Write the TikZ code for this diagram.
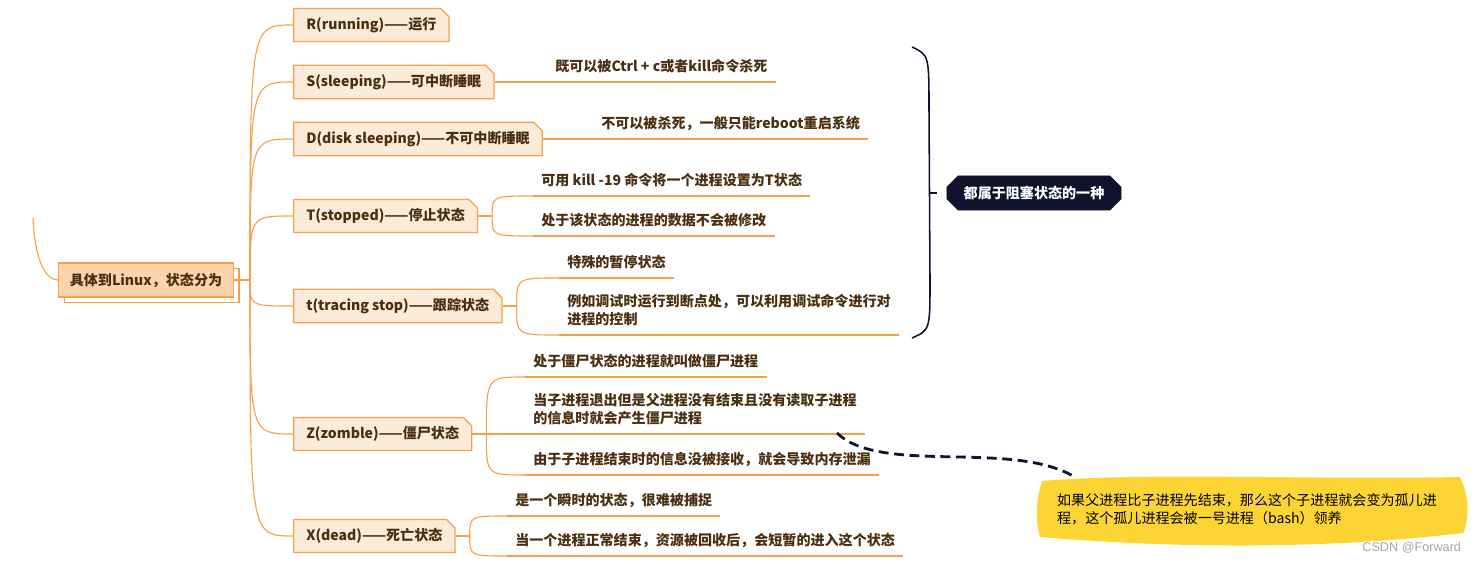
\documentclass[tikz,border=0pt]{standalone}
\usepackage{fontspec}
\setmainfont{Noto Sans CJK SC}
\newfontfamily\markfont{Liberation Sans}
\usetikzlibrary{positioning,shapes.misc,shadows}
\definecolor{branch}{HTML}{F6A04D}
\definecolor{boxfill}{HTML}{FDEBDA}
\definecolor{rootfill}{HTML}{FBD3AC}
\definecolor{ink}{HTML}{4A2E10}
\definecolor{navy}{HTML}{12112E}
\definecolor{note}{HTML}{FCD535}
\tikzset{
  state/.style={chamfered rectangle, chamfered rectangle corners=north east,
    chamfered rectangle xsep=3pt, chamfered rectangle ysep=3pt,
    draw=branch, fill=boxfill, line width=0.9pt, minimum height=0.82cm,
    inner xsep=6pt, font=\fontsize{10}{13}\selectfont\bfseries, text=ink, anchor=west},
  leaf/.style={anchor=south west, inner xsep=0.2cm, inner ysep=6pt, text=ink,
    align=left, font=\fontsize{10}{13}\selectfont\bfseries},
  block/.style={chamfered rectangle, chamfered rectangle xsep=4pt, chamfered rectangle ysep=4pt,
    fill=navy, draw=navy, text=white, minimum height=0.85cm, inner xsep=8pt,
    font=\fontsize{10}{13}\selectfont\bfseries},
  twig/.style={branch, line width=0.8pt},
}
\begin{document}
\begin{tikzpicture}[x=0.025cm, y=-0.025cm]
    \useasboundingbox (0,0) rectangle (1477,564);
    % Root
    \node[draw=branch, fill=rootfill, line width=0.9pt, minimum height=0.85cm, inner xsep=8pt,
      font=\fontsize{10}{13}\selectfont\bfseries, text=ink,
      general shadow={fill=white, draw=branch, line width=0.9pt, shadow xshift=4pt, shadow yshift=-4pt}]
      (root) at (146,280) {具体到Linux，状态分为};
    \coordinate (up) at (33,218);
    \coordinate (hub) at (250,280);
    \draw[twig] (up) .. controls (35,262) and (46,280) .. (root.west);
    \draw[twig] (root.east) -- (hub);
    % States
    \foreach \n/\y/\lbl in {R/25/R(running)——运行, S/82/S(sleeping)——可中断睡眠,
        D/139/D(disk sleeping)——不可中断睡眠, T/216/T(stopped)——停止状态,
        t/306/t(tracing stop)——跟踪状态, Z/434/Z(zomble)——僵尸状态, X/536/X(dead)——死亡状态}
      \node[state] (\n) at (293,\y) {\lbl};
    \foreach \n in {R,S,D,T,t,Z,X} \draw[twig] (hub) .. controls (hub |- \n.west) .. (\n.west);
    % Details
    \node[leaf] (s1) at (547,82) {既可以被Ctrl + c或者kill命令杀死};
    \node[leaf] (d1) at (593,139) {不可以被杀死，一般只能reboot重启系统};
    \node[leaf] (t1) at (533,196) {可用 kill -19 命令将一个进程设置为T状态};
    \node[leaf] (t2) at (533,236) {处于该状态的进程的数据不会被修改};
    \node[leaf] (p1) at (559,278) {特殊的暂停状态};
    \node[leaf] (p2) at (559,335) {例如调试时运行到断点处，可以利用调试命令进行对\\进程的控制};
    \node[leaf] (z1) at (525,377) {处于僵尸状态的进程就叫做僵尸进程};
    \node[leaf] (z2) at (525,434) {当子进程退出但是父进程没有结束且没有读取子进程\\的信息时就会产生僵尸进程};
    \node[leaf] (z3) at (525,475) {由于子进程结束时的信息没被接收，就会导致内存泄漏};
    \node[leaf] (x1) at (507,516) {是一个瞬时的状态，很难被捕捉};
    \node[leaf] (x2) at (507,556) {当一个进程正常结束，资源被回收后，会短暂的进入这个状态};
    \foreach \l in {s1,d1,t1,t2,p1,p2,z1,z2,z3,x1,x2} \draw[twig] (\l.south west) -- (\l.south east);
    \draw[twig] (S.east) -- (s1.south west);
    \draw[twig] (D.east) -- (d1.south west);
    \foreach \n/\a/\b in {T/t1/t2, t/p1/p2, Z/z1/z3, X/x1/x2} {
      \coordinate (f\n) at ([xshift=10pt]\n.east);
      \draw[twig] (\n.east) -- (f\n);
      \draw[twig] (f\n) .. controls (f\n |- \a.south) .. (\a.south west);
      \draw[twig] (f\n) .. controls (f\n |- \b.south) .. (\b.south west);
    }
    \draw[twig] (fZ) -- (z2.south west);
    % Brace and summary
    \coordinate (btop) at (912,47);
    \coordinate (bbot) at (912,338);
    \coordinate (bmid) at (930,193);
    \draw[navy, line width=1.1pt] (btop) .. controls (929,55) .. (929,110) -- (930,280) .. controls (930,330) .. (bbot);
    \node[block] (kind) at (1034,193) {都属于阻塞状态的一种};
    \draw[navy, line width=1.1pt] (bmid) -- ([xshift=-7pt]kind.west);
    % Orphan note
    \fill[note] (1042,481) .. controls (1150,472) and (1300,480) .. (1460,477)
      .. controls (1470,498) and (1469,520) .. (1463,533)
      .. controls (1300,552) and (1150,546) .. (1040,537)
      .. controls (1035,520) and (1036,500) .. cycle;
    \node[align=left, inner sep=0pt, text=black, font=\fontsize{10}{13}\selectfont]
      (orphan) at (1247,509) {如果父进程比子进程先结束，那么这个子进程就会变为孤儿进\\程，这个孤儿进程会被一号进程（bash）领养};
    \coordinate (zmark) at (837,433);
    \coordinate (ntop) at (1073,476);
    \draw[navy, line width=2pt, dash pattern=on 7pt off 4pt] (zmark) .. controls (880,475) and (1010,440) .. (ntop);
    \node[font=\markfont\fontsize{9}{10}\selectfont, text=gray!70, anchor=east] (mark) at (1466,548) {CSDN @Forward};
\end{tikzpicture}
\end{document}
